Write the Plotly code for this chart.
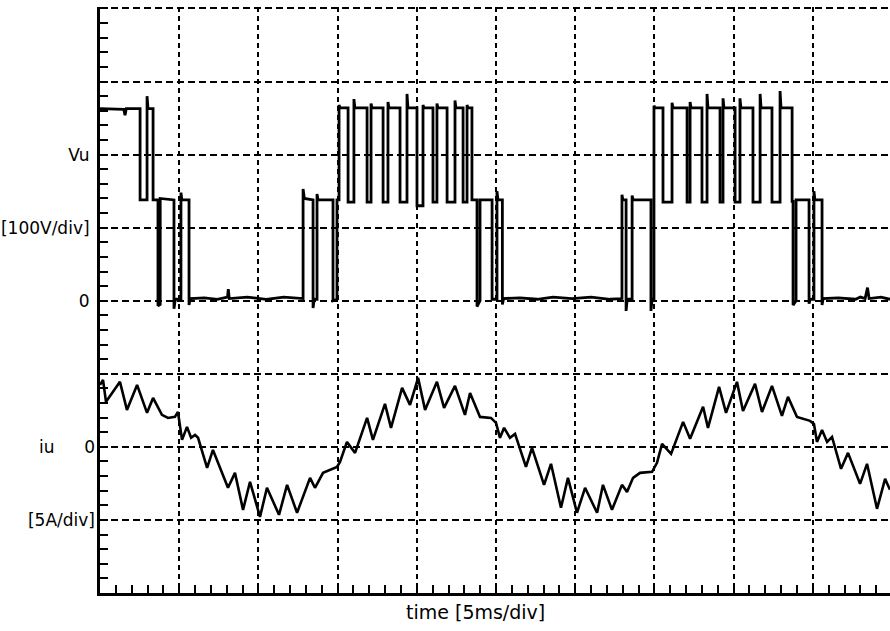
import plotly.graph_objects as go

# Phase voltage Vu (V) of the multilevel inverter, sampled at its switching edges (time in ms)
volt_t = [
    0.00, 1.50, 1.58, 1.66, 2.53, 2.53, 2.97, 2.97, 3.03, 3.35, 3.35, 3.66, 3.66, 3.80, 3.80,
    4.67, 4.67, 4.75, 5.11, 5.11, 5.17, 5.62, 5.62, 5.70,
    6.60, 7.40, 8.05, 8.10, 8.16, 9.30, 10.50, 11.60, 12.82,
    12.82, 12.90, 13.45, 13.45, 13.52, 13.70, 13.70, 13.76, 14.71, 14.71, 14.96, 14.96, 15.09, 15.09, 15.15,
    15.66, 15.66, 16.03, 16.03, 16.09,
    16.86, 16.86, 17.11, 17.11, 17.17,
    17.87, 17.87, 18.18, 18.18, 18.24,
    18.94, 18.94, 19.38, 19.38, 19.44,
    20.01, 20.01, 20.39, 20.39, 20.45,
    21.02, 21.02, 21.27, 21.27, 21.33,
    21.91, 21.91, 22.41, 22.41, 22.47,
    22.92, 22.92, 23.17, 23.17, 23.23,
    23.48, 23.48,
    23.80, 23.80, 23.99, 23.99,
    24.75, 24.75, 25.06, 25.06, 25.12, 25.40, 25.40, 25.48,
    26.50, 27.60, 28.60, 29.80, 31.00, 32.20, 32.95,
    32.95, 33.01, 33.21, 33.21, 33.28, 33.59, 33.59, 33.65,
    34.78, 34.78, 34.85, 34.97, 34.97, 35.03,
    35.54, 35.54, 36.11, 36.11, 36.17,
    37.06, 37.06, 37.25, 37.25, 37.31,
    38.00, 38.00, 38.32, 38.32, 38.38,
    39.14, 39.14, 39.33, 39.33, 39.39,
    40.09, 40.09, 40.40, 40.40, 40.46,
    41.22, 41.22, 41.67, 41.67, 41.73,
    42.42, 42.42, 42.93, 42.93, 42.99,
    43.69, 43.69,
    43.75, 43.75, 43.94, 43.94,
    44.76, 44.76, 44.83, 45.07, 45.07, 45.13, 45.58, 45.58, 45.65,
    46.60, 47.70, 48.00, 48.30, 48.45, 48.55, 49.30, 49.87,
]
volt_v = [
    263, 262, 254, 263, 263, 138, 138, 280, 263, 263, 138, 138, -7, -5, 140,
    138, -11, 2, 2, 148, 138, 138, -6, 3,
    4, 2, 5, 16, 3, 5, 2, 5, 3,
    153, 140, 138, -10, 2, 2, 146, 138, 138, 0, 2, 138, 138, 268, 264,
    264, 135, 135, 276, 264,
    264, 135, 135, 270, 264,
    264, 135, 135, 272, 264,
    264, 135, 135, 283, 264,
    264, 130, 130, 268, 264,
    264, 135, 135, 270, 264,
    264, 135, 135, 274, 264,
    264, 135, 135, 268, 264,
    264, 138,
    138, -8, 0, 138,
    138, 2, 2, 150, 138, 138, -5, 3,
    4, 2, 5, 3, 5, 2, 3,
    145, 138, 138, -14, 2, 2, 144, 138,
    138, -14, 2, 2, 267, 264,
    264, 135, 135, 271, 264,
    264, 135, 135, 272, 264,
    264, 135, 135, 283, 264,
    264, 135, 135, 277, 264,
    264, 135, 135, 277, 264,
    264, 135, 135, 283, 264,
    264, 135, 135, 287, 264,
    264, 136,
    136, -6, 0, 138,
    138, -4, 2, 2, 150, 138, 138, -6, 3,
    4, 2, 5, 3, 18, 3, 5, 2,
]

# Phase current iu (A) with its switching ripple (time in ms)
cur_t = [
    0.00, 0.19, 0.38, 0.76, 1.26, 1.70, 2.34, 2.97, 3.35, 3.91, 4.29, 4.73, 4.92, 5.18, 5.49,
    5.75, 6.00, 6.19, 6.76, 7.13, 8.08, 8.52, 9.03, 9.47, 10.10, 10.54, 11.30, 11.81, 12.44,
    13.26, 13.57, 14.08, 14.96, 15.15, 15.59, 16.10, 16.86, 17.23, 17.99, 18.37, 19.07, 19.57,
    20.08, 20.52, 21.27, 21.72, 22.41, 23.04, 23.36, 23.99, 24.68, 25.00, 25.25, 25.51, 25.88,
    26.20, 26.89, 27.27, 28.03, 28.47, 29.10, 29.54, 30.11, 30.62, 31.38, 31.75, 32.32, 32.95,
    33.27, 33.65, 34.09, 34.85, 35.16, 35.48, 36.05, 36.81, 37.25, 38.07, 38.38, 39.08, 39.52,
    40.21, 40.59, 41.35, 41.79, 42.42, 43.05, 43.43, 44.00, 44.82, 45.07, 45.26, 45.58, 45.90,
    46.21, 46.78, 47.22, 47.98, 48.42, 49.05, 49.56, 49.87,
]
cur_i = [
    4.24, 4.58, 3.08, 3.69, 4.45, 2.53, 4.24, 2.33, 3.35, 2.19, 1.98, 2.05, 2.39, 0.48, 1.37,
    0.62, 0.82, 0.62, -1.44, -0.21, -2.80, -1.78, -4.31, -2.39, -4.79, -2.80, -4.65, -2.60, -4.51,
    -2.12, -2.80, -1.78, -1.37, -1.03, 0.34, -0.41, 1.98, 0.48, 2.94, 1.30, 4.04, 2.87,
    4.72, 2.53, 4.45, 2.67, 4.17, 2.19, 3.69, 2.05, 1.98, 1.64, 0.62, 1.30, 0.62,
    0.89, -1.37, -0.07, -2.60, -1.16, -4.17, -2.12, -4.51, -2.80, -4.51, -2.60, -4.31, -2.60,
    -3.08, -2.12, -1.78, -1.71, -1.09, 0.21, -0.48, 1.71, 0.55, 2.74, 1.30, 4.10, 2.33,
    4.45, 2.46, 4.31, 2.39, 4.17, 2.12, 3.42, 2.05, 1.78, 1.57, 0.34, 1.16, 0.34,
    0.68, -1.50, -0.41, -2.53, -1.16, -4.24, -2.19, -2.94,
]

# Screen divisions: 100 V/div for Vu, 5 A/div for iu, 5 ms/div for time
volt_grid = [-300, -200, -100, 0, 100, 200, 300, 400]
volt_labels = ["", "", "", "0", "[100V/div]", "Vu", "", ""]
cur_ticks = [0, -5]
cur_labels = ["0", "[5A/div]"]
time_grid = [5, 10, 15, 20, 25, 30, 35, 40, 45]

label_font = dict(family="DejaVu Sans", size=17, color="black")

fig = go.Figure()
fig.add_trace(go.Scatter(
    x=volt_t, y=volt_v, mode="lines", yaxis="y",
    line=dict(color="black", width=2.8), showlegend=False, hoverinfo="skip",
))
fig.add_trace(go.Scatter(
    x=cur_t, y=cur_i, mode="lines", yaxis="y2",
    line=dict(color="black", width=2.6), showlegend=False, hoverinfo="skip",
))

# A little headroom above 400 V keeps the top division line inside the plot area
v_range = [-400, 402]
i_range = [-10, 30.1]

fig.update_layout(
    width=890, height=631,
    margin=dict(l=100, r=0, t=7, b=38),
    paper_bgcolor="white", plot_bgcolor="white",
    xaxis=dict(
        range=[0, 49.87], tickmode="array", tickvals=time_grid,
        ticktext=[""] * len(time_grid),
        showgrid=True, gridcolor="black", gridwidth=2, griddash="5px,4px",
        showline=True, linecolor="black", linewidth=3,
        ticks="inside", ticklen=8, tickwidth=2, tickcolor="black",
        minor=dict(tickmode="linear", tick0=0, dtick=1, ticks="inside",
                   ticklen=8, tickwidth=2, tickcolor="black", showgrid=False),
        zeroline=False, fixedrange=True,
    ),
    yaxis=dict(
        range=v_range, tickmode="array", tickvals=volt_grid, ticktext=volt_labels,
        showgrid=True, gridcolor="black", gridwidth=2, griddash="7px,4px",
        showline=True, linecolor="black", linewidth=3,
        ticks="inside", ticklen=8, tickwidth=2, tickcolor="black",
        minor=dict(tickmode="linear", tick0=0, dtick=20, ticks="inside",
                   ticklen=8, tickwidth=2, tickcolor="black", showgrid=False),
        tickfont=label_font, ticklabelstandoff=4,
        zeroline=False, fixedrange=True,
    ),
    yaxis2=dict(
        range=i_range, overlaying="y", side="left", anchor="x",
        tickmode="array", tickvals=cur_ticks, ticktext=cur_labels,
        showgrid=False, showline=False, ticks="", zeroline=False,
        tickfont=label_font, ticklabelstandoff=4, fixedrange=True,
    ),
    annotations=[
        dict(text="iu", xref="paper", yref="y2", x=-0.067, y=0,
             xanchor="center", yanchor="middle", showarrow=False, font=label_font),
        dict(text="time [5ms/div]", xref="paper", yref="paper", x=0.4747, y=-0.033,
             xanchor="center", yanchor="middle", showarrow=False,
             font=dict(family="DejaVu Sans", size=19, color="black")),
    ],
)

fig.write_html("out.html")
